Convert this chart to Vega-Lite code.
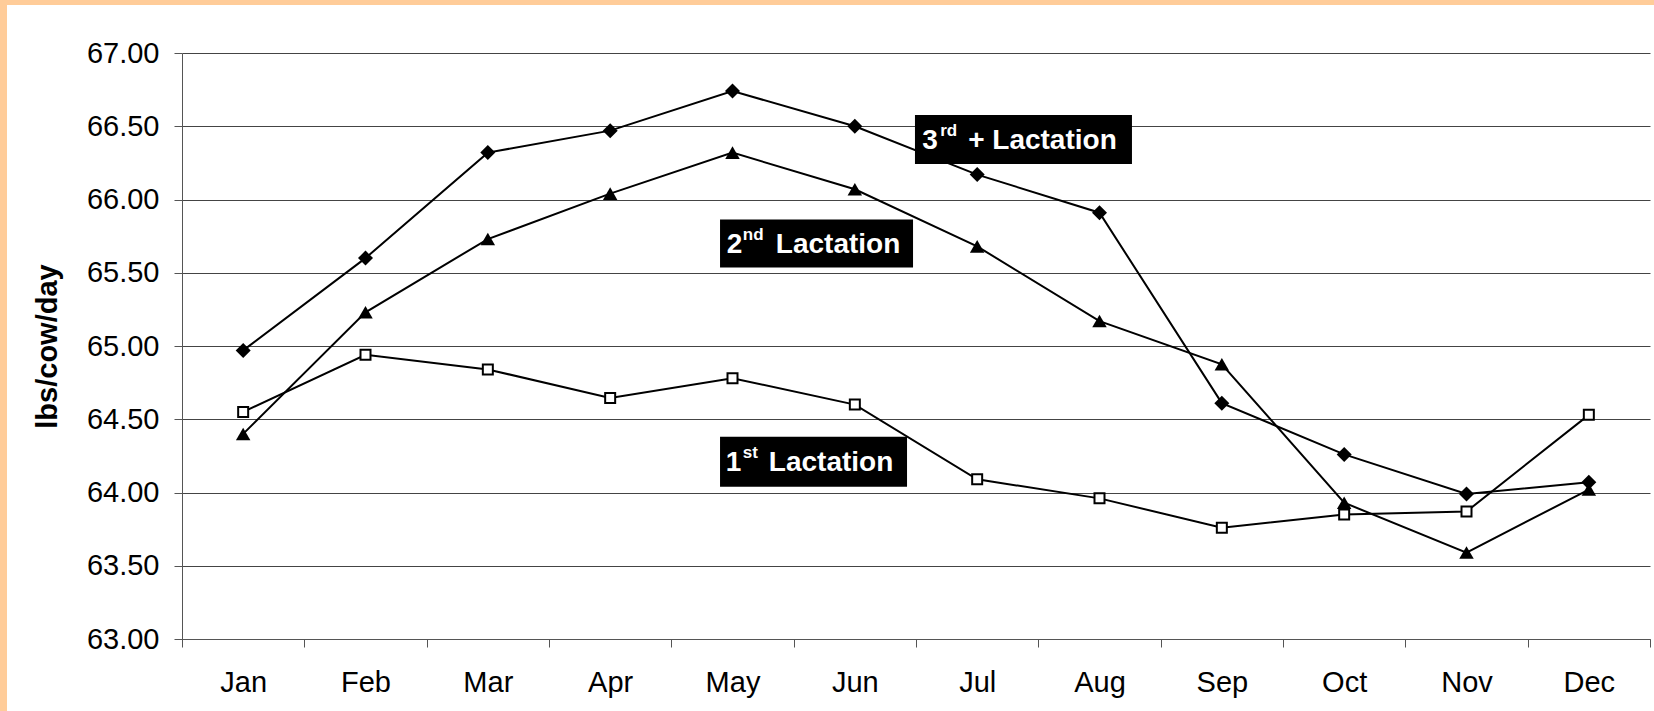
{
  "$schema": "https://vega.github.io/schema/vega-lite/v6.json",
  "background": "white",
  "padding": 0,
  "datasets": {
    "milk": [
      {"month": "Jan", "series": "3rd+", "value": 64.97},
      {"month": "Feb", "series": "3rd+", "value": 65.60},
      {"month": "Mar", "series": "3rd+", "value": 66.32},
      {"month": "Apr", "series": "3rd+", "value": 66.47},
      {"month": "May", "series": "3rd+", "value": 66.74},
      {"month": "Jun", "series": "3rd+", "value": 66.50},
      {"month": "Jul", "series": "3rd+", "value": 66.17},
      {"month": "Aug", "series": "3rd+", "value": 65.91},
      {"month": "Sep", "series": "3rd+", "value": 64.61},
      {"month": "Oct", "series": "3rd+", "value": 64.26},
      {"month": "Nov", "series": "3rd+", "value": 63.99},
      {"month": "Dec", "series": "3rd+", "value": 64.07},
      {"month": "Jan", "series": "2nd", "value": 64.40},
      {"month": "Feb", "series": "2nd", "value": 65.23},
      {"month": "Mar", "series": "2nd", "value": 65.73},
      {"month": "Apr", "series": "2nd", "value": 66.04},
      {"month": "May", "series": "2nd", "value": 66.32},
      {"month": "Jun", "series": "2nd", "value": 66.07},
      {"month": "Jul", "series": "2nd", "value": 65.68},
      {"month": "Aug", "series": "2nd", "value": 65.17},
      {"month": "Sep", "series": "2nd", "value": 64.875},
      {"month": "Oct", "series": "2nd", "value": 63.93},
      {"month": "Nov", "series": "2nd", "value": 63.59},
      {"month": "Dec", "series": "2nd", "value": 64.02},
      {"month": "Jan", "series": "1st", "value": 64.55},
      {"month": "Feb", "series": "1st", "value": 64.94},
      {"month": "Mar", "series": "1st", "value": 64.84},
      {"month": "Apr", "series": "1st", "value": 64.645},
      {"month": "May", "series": "1st", "value": 64.78},
      {"month": "Jun", "series": "1st", "value": 64.60},
      {"month": "Jul", "series": "1st", "value": 64.09},
      {"month": "Aug", "series": "1st", "value": 63.96},
      {"month": "Sep", "series": "1st", "value": 63.76},
      {"month": "Oct", "series": "1st", "value": 63.85},
      {"month": "Nov", "series": "1st", "value": 63.87},
      {"month": "Dec", "series": "1st", "value": 64.53}
    ],
    "notes": [
      {"key": "3rd", "month": "Jul", "value": 66.41, "num": "3", "sup": "rd", "rest": "+ Lactation"},
      {"key": "2nd", "month": "Jun", "value": 65.70, "num": "2", "sup": "nd", "rest": "Lactation"},
      {"key": "1st", "month": "Jun", "value": 64.21, "num": "1", "sup": "st", "rest": "Lactation"}
    ]
  },
  "config": {
    "view": {"stroke": null},
    "font": "Liberation Sans",
    "axis": {
      "labelFont": "Liberation Sans",
      "labelFontSize": 29,
      "labelColor": "black",
      "titleFont": "Liberation Sans",
      "titleFontSize": 29,
      "titleColor": "black",
      "titleFontWeight": "bold",
      "domainColor": "#555555",
      "tickColor": "#555555",
      "tickSize": 8,
      "gridColor": "#444444",
      "gridWidth": 1
    }
  },
  "spacing": 0,
  "hconcat": [
    {
      "width": 7,
      "height": 711,
      "data": {"values": [{"k": 1}]},
      "mark": {"type": "rect", "color": "#FFCC99"},
      "encoding": {}
    },
    {
      "spacing": 34,
      "vconcat": [
        {
          "width": 1647,
          "height": 5,
          "data": {"values": [{"k": 1}]},
          "mark": {"type": "rect", "color": "#FFCC99"},
          "encoding": {}
        },
        {
          "spacing": 25,
          "hconcat": [
            {
              "width": 1,
              "height": 1,
              "data": {"values": [{"k": 1}]},
              "mark": {"type": "rect", "color": "white"},
              "encoding": {}
            },
            {
              "width": 1468,
              "height": 586,
              "encoding": {
                "x": {
                  "field": "month",
                  "type": "ordinal",
                  "sort": ["Jan", "Feb", "Mar", "Apr", "May", "Jun", "Jul", "Aug", "Sep", "Oct", "Nov", "Dec"],
                  "scale": {"type": "band", "paddingInner": 0, "paddingOuter": 0},
                  "axis": {"title": null, "tickBand": "extent", "labelAngle": 0, "labelPadding": 21, "grid": false}
                },
                "y": {
                  "field": "value",
                  "type": "quantitative",
                  "scale": {"domain": [63, 67], "nice": false, "zero": false},
                  "axis": {
                    "title": "lbs/cow/day",
                    "values": [63, 63.5, 64, 64.5, 65, 65.5, 66, 66.5, 67],
                    "format": ".2f",
                    "grid": true,
                    "labelPadding": 15,
                    "titlePadding": 24,
                    "labelOverlap": false
                  }
                }
              },
              "layer": [
                {
                  "data": {"name": "milk"},
                  "mark": {"type": "line", "color": "black", "strokeWidth": 2},
                  "encoding": {"detail": {"field": "series"}}
                },
                {
                  "data": {"name": "milk"},
                  "transform": [{"filter": "datum.series == '3rd+'"}],
                  "mark": {"type": "point", "shape": "diamond", "filled": true, "color": "black", "size": 225, "opacity": 1}
                },
                {
                  "data": {"name": "milk"},
                  "transform": [{"filter": "datum.series == '2nd'"}],
                  "mark": {"type": "point", "shape": "triangle-up", "filled": true, "color": "black", "size": 210, "opacity": 1}
                },
                {
                  "data": {"name": "milk"},
                  "transform": [{"filter": "datum.series == '1st'"}],
                  "mark": {"type": "point", "shape": "square", "filled": true, "fill": "white", "stroke": "black", "strokeWidth": 2, "size": 100, "opacity": 1}
                },
                {
                  "data": {"name": "notes"},
                  "transform": [{"filter": "datum.key == '3rd'"}],
                  "layer": [
                    {"mark": {"type": "rect", "color": "black", "width": 217, "height": 49, "xOffset": 46.3}},
                    {"mark": {"type": "text", "color": "white", "font": "Liberation Sans", "fontWeight": "bold", "fontSize": 28, "align": "left", "baseline": "alphabetic", "dx": -55, "dy": 9.5}, "encoding": {"text": {"field": "num"}}},
                    {"mark": {"type": "text", "color": "white", "font": "Liberation Sans", "fontWeight": "bold", "fontSize": 17, "align": "left", "baseline": "alphabetic", "dx": -37, "dy": -3.5}, "encoding": {"text": {"field": "sup"}}},
                    {"mark": {"type": "text", "color": "white", "font": "Liberation Sans", "fontWeight": "bold", "fontSize": 28, "align": "left", "baseline": "alphabetic", "dx": -9, "dy": 9.5}, "encoding": {"text": {"field": "rest"}}}
                  ]
                },
                {
                  "data": {"name": "notes"},
                  "transform": [{"filter": "datum.key == '2nd'"}],
                  "layer": [
                    {"mark": {"type": "rect", "color": "black", "width": 193, "height": 48, "xOffset": -38.3}},
                    {"mark": {"type": "text", "color": "white", "font": "Liberation Sans", "fontWeight": "bold", "fontSize": 28, "align": "left", "baseline": "alphabetic", "dx": -128, "dy": 9.5}, "encoding": {"text": {"field": "num"}}},
                    {"mark": {"type": "text", "color": "white", "font": "Liberation Sans", "fontWeight": "bold", "fontSize": 17, "align": "left", "baseline": "alphabetic", "dx": -112, "dy": -3.5}, "encoding": {"text": {"field": "sup"}}},
                    {"mark": {"type": "text", "color": "white", "font": "Liberation Sans", "fontWeight": "bold", "fontSize": 28, "align": "left", "baseline": "alphabetic", "dx": -79, "dy": 9.5}, "encoding": {"text": {"field": "rest"}}}
                  ]
                },
                {
                  "data": {"name": "notes"},
                  "transform": [{"filter": "datum.key == '1st'"}],
                  "layer": [
                    {"mark": {"type": "rect", "color": "black", "width": 187, "height": 50, "xOffset": -41.3}},
                    {"mark": {"type": "text", "color": "white", "font": "Liberation Sans", "fontWeight": "bold", "fontSize": 28, "align": "left", "baseline": "alphabetic", "dx": -129, "dy": 9.5}, "encoding": {"text": {"field": "num"}}},
                    {"mark": {"type": "text", "color": "white", "font": "Liberation Sans", "fontWeight": "bold", "fontSize": 17, "align": "left", "baseline": "alphabetic", "dx": -112, "dy": -3.5}, "encoding": {"text": {"field": "sup"}}},
                    {"mark": {"type": "text", "color": "white", "font": "Liberation Sans", "fontWeight": "bold", "fontSize": 28, "align": "left", "baseline": "alphabetic", "dx": -86, "dy": 9.5}, "encoding": {"text": {"field": "rest"}}}
                  ]
                }
              ]
            }
          ]
        }
      ]
    }
  ]
}
